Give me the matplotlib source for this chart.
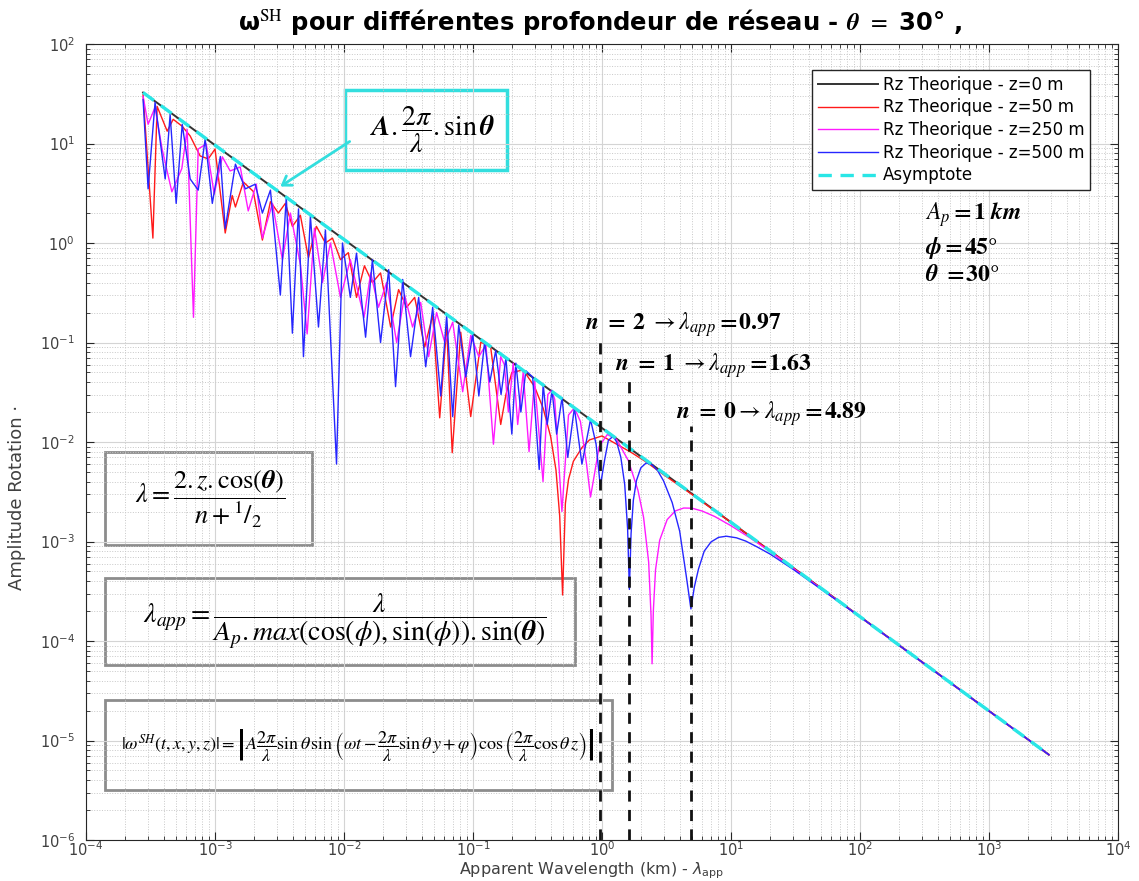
import numpy as np
import matplotlib
matplotlib.use("Agg")
import matplotlib.pyplot as plt
from matplotlib.ticker import LogLocator, NullFormatter
from matplotlib.patches import Rectangle, FancyArrowPatch

# ---- data (km, amplitude) ----
asym_x = [2.77e-4, 2910]
asym_y = [32.5, 7.2e-6]

red_x = [2.77e-4, 3.30e-4, 3.56e-4, 4.26e-4, 4.74e-4, 5.57e-4, 6.42e-4, 7.67e-4, 8.87e-4, 1.0e-3,
         1.20e-3, 1.36e-3, 1.44e-3, 1.66e-3, 1.98e-3, 2.33e-3, 2.69e-3, 3.10e-3, 3.51e-3, 3.98e-3,
         4.59e-3, 5.30e-3, 6.11e-3, 7.18e-3, 8.14e-3, 9.39e-3, 1.08e-2, 1.25e-2, 1.44e-2, 1.66e-2,
         1.92e-2, 2.30e-2, 2.65e-2, 3.06e-2, 3.53e-2, 4.22e-2, 4.87e-2, 5.52e-2, 6.25e-2, 0.069,
         0.0803, 0.096, 0.115, 0.137, 0.164, 0.18, 0.2, 0.245, 0.3, 0.35,
         0.4, 0.44, 0.47, 0.495, 0.52, 0.55, 0.6, 0.7, 0.8, 1.0,
         1.3, 1.7, 2.2, 3.0, 5.0, 10, 100, 2910]
red_y = [31, 1.12, 23.6, 13.3, 17.5, 14.9, 11.9, 7.5, 7.0, 8.8,
         1.26, 3.0, 2.3, 4.1, 3.3, 1.07, 2.6, 2.0, 2.5, 1.47,
         1.9, 0.71, 1.47, 1.0, 1.12, 0.68, 0.80, 0.284, 0.59, 0.40,
         0.50, 0.143, 0.34, 0.226, 0.284, 0.090, 0.188, 0.0175, 0.143, 7.8e-3,
         0.127, 0.018, 0.101, 0.09, 0.015, 0.030, 0.05, 0.053, 0.036, 0.0218,
         0.0113, 5.2e-3, 1.8e-3, 2.9e-4, 2.4e-3, 4.2e-3, 6.4e-3, 8.8e-3, 0.0105, 0.0115,
         9.5e-3, 7.8e-3, 6.3e-3, 4.7e-3, 2.96e-3, 1.56e-3, 1.75e-4, 7.2e-6]

mag_x = [2.77e-4, 3.03e-4, 3.43e-4, 3.89e-4, 4.63e-4, 5.53e-4, 6.08e-4, 6.81e-4, 7.41e-4, 8.55e-4,
         9.86e-4, 1.14e-3, 1.31e-3, 1.57e-3, 1.81e-3, 2.09e-3, 2.33e-3, 2.79e-3, 3.33e-3, 3.84e-3,
         4.59e-3, 5.18e-3, 5.90e-3, 6.81e-3, 7.85e-3, 9.39e-3, 1.12e-2, 1.43e-2, 1.61e-2, 1.85e-2,
         2.14e-2, 2.56e-2, 2.95e-2, 3.40e-2, 3.93e-2, 4.53e-2, 5.22e-2, 6.04e-2, 6.96e-2, 8.32e-2,
         9.61e-2, 0.111, 0.126, 0.144, 0.164, 0.175, 0.188, 0.205, 0.222, 0.245,
         0.272, 0.30, 0.349, 0.38, 0.407, 0.43, 0.489, 0.55, 0.611, 0.68,
         0.76, 0.815, 0.87, 0.95, 1.1, 1.3, 1.6, 1.9, 2.1, 2.3,
         2.4, 2.445, 2.5, 2.6, 2.8, 3.2, 3.7, 4.3, 5.0, 6.0,
         7.5, 10, 14, 20, 100, 2910]
mag_y = [29.7, 15.6, 23.1, 8.8, 3.27, 5.6, 13.9, 0.179, 8.8, 9.9,
         3.1, 7.35, 5.3, 5.8, 2.1, 3.9, 1.12, 2.5, 0.68, 2.0,
         0.61, 0.122, 1.41, 0.40, 1.0, 0.284, 0.68, 0.179, 0.50, 0.226,
         0.40, 0.10, 0.30, 0.143, 0.253, 0.072, 0.2, 0.10, 0.16, 0.032,
         0.118, 0.072, 0.095, 9.5e-3, 0.072, 0.06, 0.02, 0.062, 0.015, 0.05,
         8e-3, 0.042, 4e-3, 0.03, 0.033, 0.0268, 2e-3, 0.0187, 0.022, 0.0161,
         5.9e-3, 2.8e-3, 4.6e-3, 9.0e-3, 0.0119, 0.0106, 6.5e-3, 3.27e-3, 1.75e-3, 6.2e-4,
         1.8e-4, 5.9e-5, 2.0e-4, 5.2e-4, 1.03e-3, 1.66e-3, 2.03e-3, 2.17e-3, 2.16e-3, 2.02e-3,
         1.78e-3, 1.44e-3, 1.09e-3, 7.95e-4, 1.75e-4, 7.2e-6]

blue_x = [2.77e-4, 3.03e-4, 3.43e-4, 4.11e-4, 4.49e-4, 5.00e-4, 5.57e-4, 6.42e-4, 7.41e-4, 8.39e-4,
          9.53e-4, 1.10e-3, 1.20e-3, 1.44e-3, 1.72e-3, 2.05e-3, 2.33e-3, 2.69e-3, 3.21e-3, 3.57e-3,
          3.98e-3, 4.44e-3, 4.85e-3, 5.49e-3, 6.34e-3, 7.18e-3, 8.75e-3, 9.73e-3, 1.12e-2, 1.25e-2,
          1.47e-2, 1.66e-2, 1.92e-2, 2.22e-2, 2.51e-2, 2.85e-2, 3.28e-2, 3.79e-2, 4.30e-2, 4.87e-2,
          5.62e-2, 6.25e-2, 6.96e-2, 7.75e-2, 8.79e-2, 9.96e-2, 0.111, 0.123, 0.135, 0.15,
          0.165, 0.18, 0.20, 0.215, 0.235, 0.257, 0.29, 0.326, 0.35, 0.376,
          0.41, 0.445, 0.49, 0.543, 0.611, 0.699, 0.815, 0.9, 0.97, 1.05,
          1.12, 1.22, 1.3, 1.4, 1.5, 1.58, 1.63, 1.68, 1.75, 1.85,
          2.0, 2.2, 2.445, 2.7, 3.0, 3.5, 4.0, 4.5, 4.89, 5.2,
          5.6, 6.2, 7.0, 8.0, 9.2, 11, 13, 16, 20, 25,
          30, 100, 2910]
blue_y = [27.7, 3.5, 25.9, 4.4, 19.6, 2.5, 15.6, 4.4, 3.4, 11.1,
          2.5, 7.4, 1.4, 6.2, 3.5, 3.9, 2.0, 3.4, 0.30, 2.9,
          0.124, 2.2, 0.072, 1.86, 0.143, 1.35, 0.006, 1.0, 0.284, 0.79,
          0.113, 0.68, 0.10, 0.54, 0.036, 0.43, 0.072, 0.284, 0.057, 0.226,
          0.029, 0.188, 0.018, 0.150, 0.045, 0.122, 0.029, 0.101, 0.04, 0.083,
          0.03, 0.07, 0.012, 0.062, 0.02, 0.052, 0.045, 5.3e-3, 0.038, 0.015,
          0.033, 0.012, 0.028, 7e-3, 0.022, 6e-3, 0.0168, 9.5e-3, 3.6e-3, 6.7e-3,
          0.0104, 0.0114, 0.010, 7.0e-3, 3.74e-3, 1.33e-3, 3.3e-4, 1.2e-3, 2.6e-3, 4.1e-3,
          5.5e-3, 6.16e-3, 5.9e-3, 5.15e-3, 4.07e-3, 2.46e-3, 1.27e-3, 4.5e-4, 2.1e-4, 3.5e-4,
          5.3e-4, 8.0e-4, 9.9e-4, 1.10e-3, 1.13e-3, 1.09e-3, 1.01e-3, 8.8e-4, 7.5e-4, 6.2e-4,
          5.3e-4, 1.75e-4, 7.2e-6]

node_x = [0.97, 1.63, 4.89]
node_top = [0.119, 0.0434, 0.0144]
node_labels = [r"$\boldsymbol{n\ =\ 2}\ \rightarrow\lambda_{app}\boldsymbol{=0.97}$",
               r"$\boldsymbol{n\ =\ 1}\ \rightarrow\lambda_{app}\boldsymbol{=1.63}$",
               r"$\boldsymbol{n\ =\ 0}\rightarrow\lambda_{app}\boldsymbol{=4.89}$"]

W, H = 1139, 881


def fx(px):
    return px / W


def fy(py):
    return 1 - py / H


fig = plt.figure(figsize=(W / 100, H / 100), dpi=100)
ax = fig.add_axes([fx(86), fy(840), fx(1118) - fx(86), fy(44) - fy(840)])

ax.plot(asym_x, asym_y, color="#333333", lw=1.4, label="Rz Theorique - z=0 m")
ax.plot(red_x, red_y, color="#ff1a1a", lw=1.0, label="Rz Theorique - z=50 m")
ax.plot(mag_x, mag_y, color="#ff1aff", lw=1.0, label="Rz Theorique - z=250 m")
ax.plot(blue_x, blue_y, color="#2626ff", lw=1.0, label="Rz Theorique - z=500 m")
ax.plot(asym_x, asym_y, color="#29e6e6", lw=2.4, dashes=(4, 2.6), label="Asymptote")

ax.vlines(node_x, 1e-6, node_top, colors="#111111", lw=2.0, linestyles=(0, (4, 3)))

ax.set_xscale("log")
ax.set_yscale("log")
ax.set_xlim(1e-4, 1e4)
ax.set_ylim(1e-6, 1e2)

for axis in (ax.xaxis, ax.yaxis):
    axis.set_major_locator(LogLocator(base=10, numticks=100))
    axis.set_minor_locator(LogLocator(base=10, subs=np.arange(2, 10), numticks=100))
    axis.set_minor_formatter(NullFormatter())

ax.tick_params(which="both", direction="in", top=True, right=True, color="#262626",
               labelcolor="#404040", labelsize=10.5)
ax.tick_params(which="major", length=6)
ax.tick_params(which="minor", length=3)
ax.tick_params(axis="x", pad=0)
ax.tick_params(axis="y", pad=8)
ax.grid(True, which="major", color="#d4d4d4", lw=0.8)
ax.grid(True, which="minor", color="#c8c8c8", lw=0.7, ls=":")
for sp in ax.spines.values():
    sp.set_color("#262626")

ax.set_xlabel(r"Apparent Wavelength (km) - $\lambda_{\rm app}$", fontsize=11.5, color="#404040")
ax.set_ylabel("Amplitude Rotation ·", fontsize=13, color="#404040")
ax.xaxis.set_label_coords(0.49, -(871 - 840) / (840 - 44))
ax.xaxis.label.set_va("center")
ax.yaxis.set_label_coords(-0.058, 0.43)

leg = ax.legend(loc="upper right", bbox_to_anchor=(0.981, 0.978), fontsize=12,
                fancybox=False, edgecolor="#262626", framealpha=1, handlelength=3.6,
                labelspacing=0.28, borderpad=0.35, handletextpad=0.3)
leg.get_frame().set_linewidth(1.0)

fig.text(0.527, 0.975,
         r"ω$^{\mathrm{SH}}$ pour différentes profondeur de réseau - $\boldsymbol{\theta}$ $=$ 30° ,",
         ha="center", va="center", fontsize=17.5, fontweight="bold", math_fontfamily="stix")

# cyan box with arrow
ax.add_artist(Rectangle((fx(345), fy(170)), fx(507) - fx(345), fy(90) - fy(170),
                        transform=fig.transFigure, fill=False, ec="#33dede", lw=2.5))
fig.text(fx(432), fy(130), r"$\boldsymbol{A}.\dfrac{2\pi}{\lambda}.\sin\boldsymbol{\theta}$",
         ha="center", va="center", fontsize=20, math_fontfamily="stix")
fig.patches.append(FancyArrowPatch((fx(352), fy(140)), (fx(278), fy(188)), transform=fig.transFigure,
                                   arrowstyle="->,head_length=6,head_width=4", color="#33dede", lw=2))

# gray formula boxes
for x0, y0, x1, y1 in [(105, 452, 312, 545), (105, 578, 575, 665), (105, 700, 612, 790)]:
    ax.add_artist(Rectangle((fx(x0), fy(y1)), fx(x1) - fx(x0), fy(y0) - fy(y1),
                            transform=fig.transFigure, fill=False, ec="#8c8c8c", lw=2))

fig.text(fx(210), fy(499), r"$\lambda = \dfrac{2.z.\cos(\boldsymbol{\theta})}{n + {}^{1}/_{2}}$",
         ha="center", va="center", fontsize=19, math_fontfamily="stix")
fig.text(fx(345), fy(621),
         r"$\lambda_{app} = \dfrac{\lambda}{\boldsymbol{A_p}.max(\cos(\phi),\sin(\phi)).\sin(\boldsymbol{\theta})}$",
         ha="center", va="center", fontsize=20, math_fontfamily="stix")
fig.text(fx(358), fy(745),
         r"$|\boldsymbol{\omega^{SH}}(t,x,y,z)| = \left|A\dfrac{2\pi}{\lambda}\sin\theta\,\sin\left(\omega t - \dfrac{2\pi}{\lambda}\sin\theta\, y + \varphi\right)\cos\left(\dfrac{2\pi}{\lambda}\cos\theta\, z\right)\right|$",
         ha="center", va="center", fontsize=13, math_fontfamily="stix")

# parameters
for txt, py in [(r"$\boldsymbol{A_p = 1\ km}$", 215), (r"$\boldsymbol{\phi = 45°}$", 248),
                (r"$\boldsymbol{\theta\ = 30°}$", 274)]:
    fig.text(fx(925), fy(py), txt, ha="left", va="center", fontsize=17, math_fontfamily="stix")

for lab, (px, py) in zip(node_labels, [(585, 325), (615, 366), (676, 414)]):
    fig.text(fx(px), fy(py), lab, ha="left", va="center", fontsize=17, math_fontfamily="stix")

fig.savefig("out.png", dpi=100)
